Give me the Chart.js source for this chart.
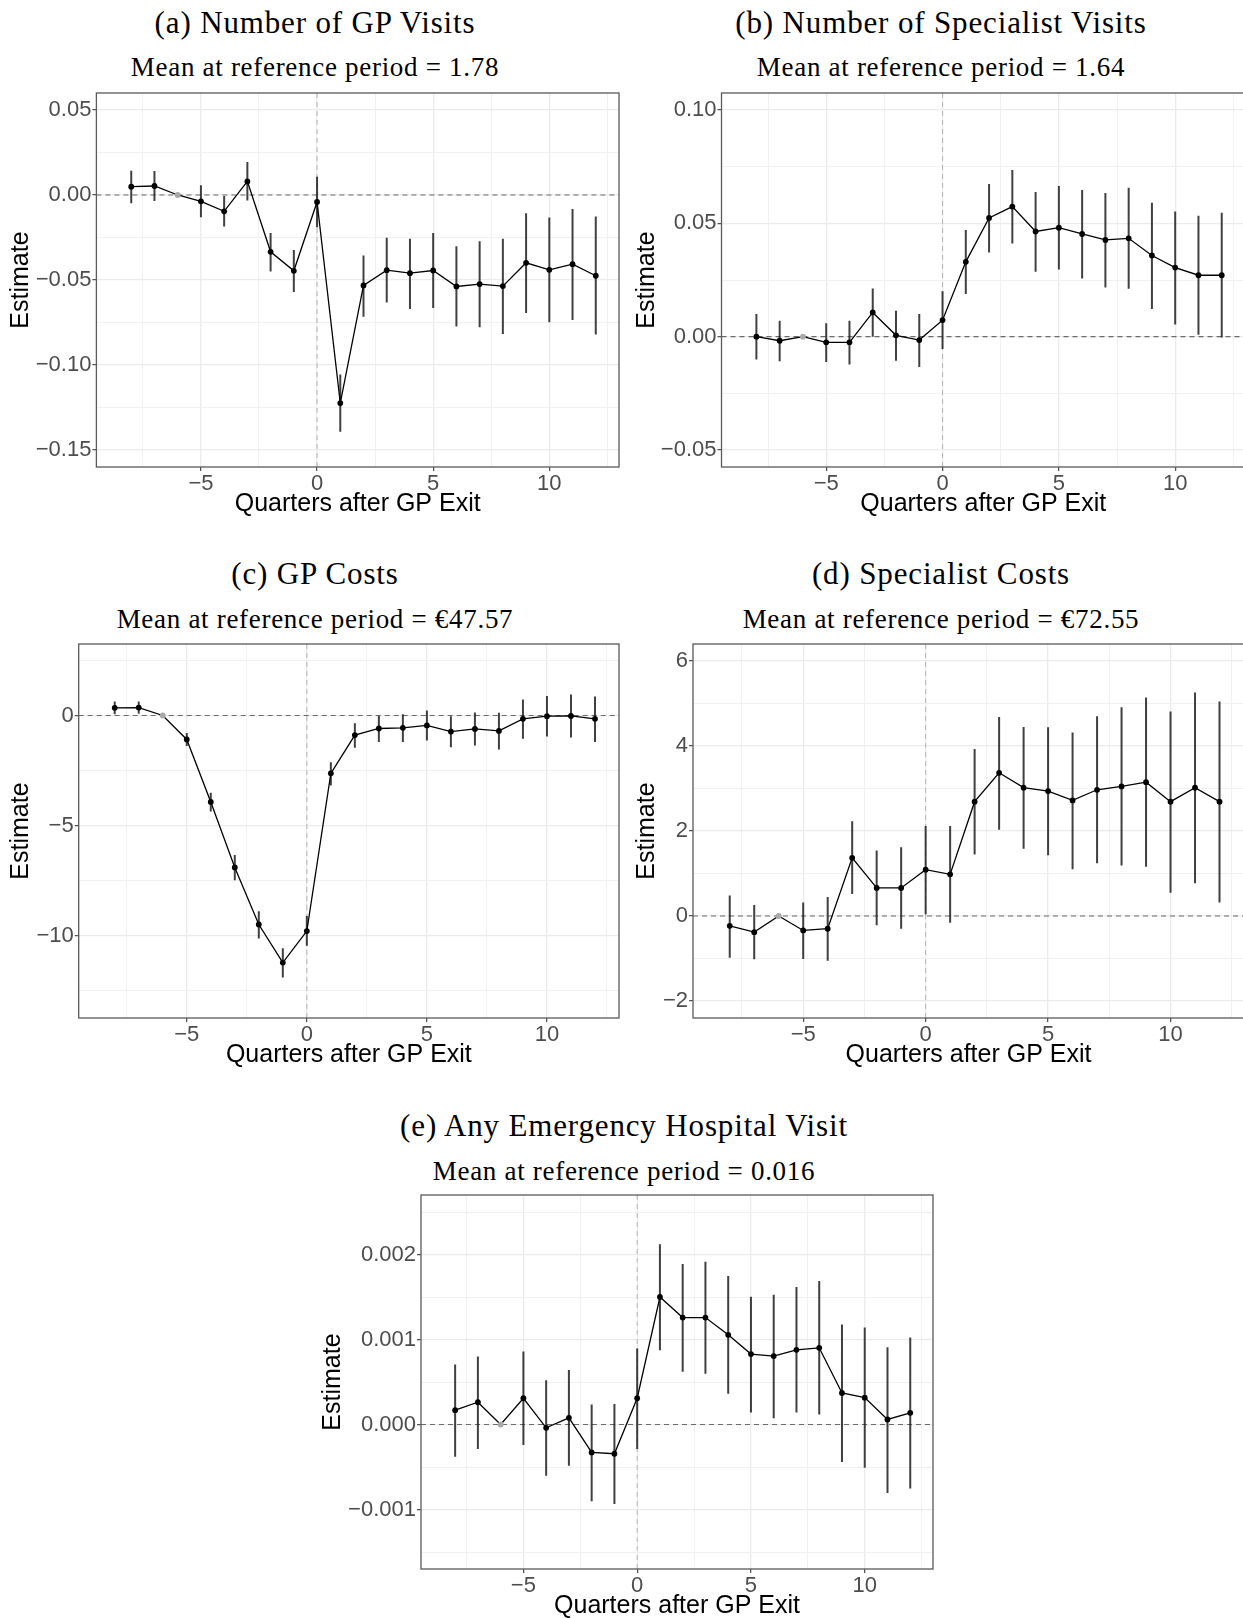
<!DOCTYPE html>
<html>
<head>
<meta charset="utf-8">
<title>Event study: GP exit</title>
<script src="https://cdn.jsdelivr.net/npm/chart.js@4.4.1/dist/chart.umd.min.js"></script>
<style>
html, body { margin:0; padding:0; background:#fff; overflow:hidden; }
body { width:1243px; height:1618px; position:relative; }
canvas { position:absolute; }
.ttl { position:absolute; width:620px; text-align:center; font-family:"Liberation Serif", serif;
       color:#000; line-height:1; white-space:nowrap; }
.main { font-size:31px; letter-spacing:0.85px; }
.sub { font-size:27px; letter-spacing:0.7px; }
</style>
</head>
<body>

<div class="ttl main" style="left:5px;top:7px">(a) Number of GP Visits</div>
<div class="ttl sub" style="left:5px;top:54px">Mean at reference period = 1.78</div>
<div class="ttl main" style="left:631px;top:7px">(b) Number of Specialist Visits</div>
<div class="ttl sub" style="left:631px;top:54px">Mean at reference period = 1.64</div>

<div class="ttl main" style="left:5px;top:558px">(c) GP Costs</div>
<div class="ttl sub" style="left:5px;top:606px">Mean at reference period = €47.57</div>
<div class="ttl main" style="left:631px;top:558px">(d) Specialist Costs</div>
<div class="ttl sub" style="left:631px;top:606px">Mean at reference period = €72.55</div>

<div class="ttl main" style="left:314px;top:1110px">(e) Any Emergency Hospital Visit</div>
<div class="ttl sub" style="left:314px;top:1158px">Mean at reference period = 0.016</div>

<canvas id="chartA"></canvas>
<canvas id="chartB"></canvas>
<canvas id="chartC"></canvas>
<canvas id="chartD"></canvas>
<canvas id="chartE"></canvas>

<script>
// ================= DATA =================
// quarters relative to the GP exit; -6 is the reference quarter (no CI)
const quarters = [-8,-7,-6,-5,-4,-3,-2,-1,0,1,2,3,4,5,6,7,8,9,10,11,12];

const xMajor = [-5, 0, 5, 10];
const xLabels = ["−5", "0", "5", "10"];
const xMinor = [-7.5, -2.5, 2.5, 7.5, 12.5];

// (a) GP visits
const gpVisitsEst = [0.0049, 0.0053, 0, -0.0037, -0.0096, 0.0080, -0.0334, -0.0446, -0.0041, -0.1224, -0.0532, -0.0442, -0.0460, -0.0444, -0.0538, -0.0524, -0.0536, -0.0399, -0.0440, -0.0407, -0.0475];
const gpVisitsLo  = [-0.0049, -0.0035, null, -0.0131, -0.0186, -0.0033, -0.0450, -0.0571, -0.0190, -0.1392, -0.0716, -0.0632, -0.0671, -0.0665, -0.0774, -0.0778, -0.0817, -0.0694, -0.0749, -0.0735, -0.0821];
const gpVisitsHi  = [0.0143, 0.0141, null, 0.0057, -0.0006, 0.0194, -0.0223, -0.0323, 0.0108, -0.1056, -0.0356, -0.0252, -0.0258, -0.0223, -0.0301, -0.0272, -0.0258, -0.0108, -0.0133, -0.0082, -0.0127];
const gpVisitsTicks  = [-0.15, -0.10, -0.05, 0, 0.05];
const gpVisitsLabels = ["−0.15", "−0.10", "−0.05", "0.00", "0.05"];
const gpVisitsMinor  = [-0.125, -0.075, -0.025, 0.025];

// (b) specialist visits
const spVisitsEst = [0, -0.0018, 0, -0.0025, -0.0025, 0.0107, 0.0006, -0.0015, 0.0073, 0.0330, 0.0524, 0.0574, 0.0464, 0.0481, 0.0453, 0.0427, 0.0434, 0.0358, 0.0305, 0.0271, 0.0271];
const spVisitsLo  = [-0.0101, -0.0109, null, -0.0112, -0.0123, 0.0000, -0.0106, -0.0134, -0.0054, 0.0188, 0.0371, 0.0411, 0.0286, 0.0296, 0.0257, 0.0217, 0.0211, 0.0122, 0.0054, 0.0009, -0.0004];
const spVisitsHi  = [0.0100, 0.0070, null, 0.0059, 0.0070, 0.0213, 0.0114, 0.0100, 0.0200, 0.0471, 0.0674, 0.0735, 0.0638, 0.0665, 0.0647, 0.0634, 0.0657, 0.0591, 0.0552, 0.0533, 0.0547];
const spVisitsTicks  = [-0.05, 0, 0.05, 0.10];
const spVisitsLabels = ["−0.05", "0.00", "0.05", "0.10"];
const spVisitsMinor  = [-0.025, 0.025, 0.075];

// (c) GP costs
const gpCostsEst = [0.35, 0.36, 0, -1.09, -3.93, -6.91, -9.50, -11.23, -9.80, -2.63, -0.89, -0.59, -0.56, -0.45, -0.73, -0.61, -0.70, -0.15, -0.03, -0.02, -0.15];
const gpCostsLo  = [0.06, 0.08, null, -1.39, -4.36, -7.49, -10.14, -11.91, -10.47, -3.18, -1.47, -1.20, -1.21, -1.14, -1.44, -1.36, -1.54, -1.06, -0.95, -1.00, -1.21];
const gpCostsHi  = [0.64, 0.64, null, -0.79, -3.51, -6.34, -8.90, -10.58, -9.11, -2.12, -0.35, -0.02, 0.06, 0.23, -0.03, 0.14, 0.12, 0.73, 0.89, 0.95, 0.86];
const gpCostsTicks  = [-10, -5, 0];
const gpCostsLabels = ["−10", "−5", "0"];
const gpCostsMinor  = [-12.5, -7.5, -2.5, 2.5];

// (d) specialist costs
const spCostsEst = [-0.23, -0.38, 0, -0.34, -0.30, 1.37, 0.66, 0.66, 1.09, 0.98, 2.69, 3.37, 3.02, 2.94, 2.72, 2.97, 3.05, 3.15, 2.69, 3.02, 2.69];
const spCostsLo  = [-0.98, -1.02, null, -1.01, -1.05, 0.52, -0.22, -0.30, 0.04, -0.16, 1.45, 2.03, 1.58, 1.43, 1.10, 1.24, 1.19, 1.16, 0.55, 0.77, 0.32];
const spCostsHi  = [0.48, 0.26, null, 0.32, 0.45, 2.23, 1.54, 1.62, 2.12, 2.12, 3.93, 4.68, 4.45, 4.44, 4.32, 4.70, 4.91, 5.14, 4.81, 5.26, 5.05];
const spCostsTicks  = [-2, 0, 2, 4, 6];
const spCostsLabels = ["−2", "0", "2", "4", "6"];
const spCostsMinor  = [-1, 1, 3, 5];

// (e) any emergency hospital visit
const emergEst = [0.000168, 0.000262, 0, 0.000309, -0.000039, 0.000078, -0.000328, -0.000344, 0.000309, 0.001500, 0.001258, 0.001258, 0.001055, 0.000828, 0.000805, 0.000879, 0.000902, 0.000371, 0.000316, 0.000059, 0.000137];
const emergLo  = [-0.000379, -0.000289, null, -0.000242, -0.000602, -0.000484, -0.000902, -0.000934, -0.000289, 0.000875, 0.000621, 0.000598, 0.000363, 0.000141, 0.000074, 0.000141, 0.000117, -0.000441, -0.000508, -0.000805, -0.000754];
const emergHi  = [0.000707, 0.000801, null, 0.000859, 0.000520, 0.000641, 0.000234, 0.000242, 0.000895, 0.002121, 0.001887, 0.001914, 0.001746, 0.001504, 0.001527, 0.001617, 0.001688, 0.001176, 0.001141, 0.000910, 0.001023];
const emergTicks  = [-0.001, 0, 0.001, 0.002];
const emergLabels = ["−0.001", "0.000", "0.001", "0.002"];
const emergMinor  = [-0.0015, -0.0005, 0.0005, 0.0015, 0.0025];

// ================= LAYOUT =================
const PAD_TOP = 4, PAD_RIGHT = 4, X_AXIS_H = 52;
const SANS = "'Liberation Sans', Arial, sans-serif";

// ================= PLUGINS =================
const refLines = {
    id: "refLines",
    beforeDatasetsDraw(chart){
        const {ctx, chartArea:a, scales:{x, y}} = chart;
        ctx.save();
        ctx.setLineDash([5, 4]);

        // zero effect
        const y0 = y.getPixelForValue(0);
        ctx.strokeStyle = "#6b6b6b";
        ctx.lineWidth = 1.2;
        ctx.beginPath(); ctx.moveTo(a.left, y0); ctx.lineTo(a.right, y0); ctx.stroke();

        // quarter of exit
        const x0 = x.getPixelForValue(0);
        ctx.strokeStyle = "#b5b5b5";
        ctx.lineWidth = 1;
        ctx.beginPath(); ctx.moveTo(x0, a.top); ctx.lineTo(x0, a.bottom); ctx.stroke();
        ctx.restore();
    },
    afterDraw(chart){
        const {ctx, chartArea:a} = chart;
        ctx.save();
        ctx.strokeStyle = "#5a5a5a";
        ctx.lineWidth = 1.3;
        ctx.strokeRect(a.left, a.top, a.right - a.left, a.bottom - a.top);
        ctx.restore();
    }
};

// ================= HELPERS =================
function tickList(major, minor){
    return major.concat(minor).sort((p, q) => p - q).map(v => ({value: v}));
}

function isMajor(list, v){
    return list.some(m => Math.abs(m - v) < 1e-9);
}

function labelFor(list, labels, v){
    const i = list.findIndex(m => Math.abs(m - v) < 1e-9);
    return i < 0 ? "" : labels[i];
}

function axis(major, labels, minor, min, max, title, fit, pad){
    return {
        type: "linear",
        min: min,
        max: max,
        afterBuildTicks: s => { s.ticks = tickList(major, minor); },
        afterFit: fit,
        border: { display: false },
        grid: {
            color: c => isMajor(major, c.tick.value) ? "#ebebeb" : "#f1f1f1",
            lineWidth: c => isMajor(major, c.tick.value) ? 1.3 : 1,
            drawTicks: true,
            tickLength: 4,
            tickWidth: 1.2,
            tickColor: c => isMajor(major, c.tick.value) ? "#4d4d4d" : "rgba(0,0,0,0)"
        },
        ticks: {
            autoSkip: false,
            maxRotation: 0,
            padding: pad,
            color: "#4d4d4d",
            font: { family: SANS, size: 22 },
            callback: v => labelFor(major, labels, v)
        },
        title: title
    };
}

function makePanel(id, box, est, lo, hi, yMin, yMax, yTicks, yLabels, yMinor){

    const canvas = document.getElementById(id);
    const left = box.estX - 20;
    const top = box.top - PAD_TOP;
    canvas.width = Math.round(box.right + PAD_RIGHT - left);
    canvas.height = Math.round(box.bottom - box.top + PAD_TOP + X_AXIS_H);
    canvas.style.left = left + "px";
    canvas.style.top = top + "px";
    const yWidth = box.left - left;

    // error bars: one vertical segment per quarter, broken by null points
    const bars = [];
    quarters.forEach((q, i) => {
        if(lo[i] === null) return;
        bars.push({x:q, y:lo[i]}, {x:q, y:hi[i]}, {x:q, y:null});
    });

    return new Chart(canvas.getContext("2d"), {
        type: "line",
        data: {
            datasets: [{
                label: "Estimate",
                data: quarters.map((q, i) => ({x:q, y:est[i]})),
                borderColor: "#000",
                borderWidth: 1.3,
                pointRadius: 2.9,
                pointBorderWidth: 0,
                pointBackgroundColor: c => quarters[c.dataIndex] === -6 ? "#a8a8a8" : "#000",
                tension: 0
            },{
                label: "95% CI",
                data: bars,
                borderColor: "rgba(30,30,30,0.85)",
                borderWidth: 2,
                pointRadius: 0,
                spanGaps: false
            }]
        },
        options: {
            responsive: false,
            animation: false,
            events: [],
            layout: { padding: { top: PAD_TOP, right: PAD_RIGHT, left: 0, bottom: 0 } },
            plugins: { legend: { display: false }, tooltip: { enabled: false } },
            scales: {
                x: axis(xMajor, xLabels, xMinor, -9.5, 13, {
                    display: true, text: "Quarters after GP Exit", color: "#000",
                    font: { family: SANS, size: 25 }, padding: { top: 0, bottom: 0 }
                }, s => {
                    s.height = X_AXIS_H;
                    s.paddingLeft = 0; s.paddingRight = 0;
                }, 0),
                y: axis(yTicks, yLabels, yMinor, yMin, yMax, {
                    display: true, text: "Estimate", color: "#000",
                    font: { family: SANS, size: 25 }, padding: { top: 5, bottom: 0 }
                }, s => {
                    s.width = yWidth;
                    s.paddingTop = 0; s.paddingBottom = 0;
                }, 1)
            }
        },
        plugins: [refLines]
    });
}

// ================= DRAW =================
makePanel("chartA", {estX:20.6, left:96, top:92.7, right:619, bottom:467},
    gpVisitsEst, gpVisitsLo, gpVisitsHi, -0.16, 0.06, gpVisitsTicks, gpVisitsLabels, gpVisitsMinor);

makePanel("chartB", {estX:647, left:721.5, top:92.7, right:1245, bottom:467},
    spVisitsEst, spVisitsLo, spVisitsHi, -0.0575, 0.1075, spVisitsTicks, spVisitsLabels, spVisitsMinor);

makePanel("chartC", {estX:20.6, left:78.3, top:644.3, right:619, bottom:1018.3},
    gpCostsEst, gpCostsLo, gpCostsHi, -13.75, 3.25, gpCostsTicks, gpCostsLabels, gpCostsMinor);

makePanel("chartD", {estX:647, left:693, top:644.3, right:1244, bottom:1018.3},
    spCostsEst, spCostsLo, spCostsHi, -2.4, 6.4, spCostsTicks, spCostsLabels, spCostsMinor);

makePanel("chartE", {estX:332.5, left:420.5, top:1195.3, right:932, bottom:1569.3},
    emergEst, emergLo, emergHi, -0.0017, 0.0027, emergTicks, emergLabels, emergMinor);
</script>
</body>
</html>
